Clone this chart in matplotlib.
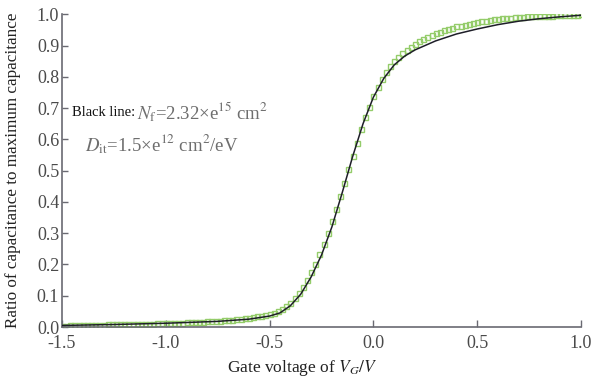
import numpy as np
import matplotlib
matplotlib.use("Agg")
import matplotlib.pyplot as plt

plt.rcParams['font.family'] = ['Liberation Serif', 'DejaVu Serif']
plt.rcParams['mathtext.fontset'] = 'stix'

# Black line (model)
line_v = [-1.5, -1.25, -1.0, -0.75, -0.6, -0.5, -0.45, -0.4, -0.35, -0.3, -0.25, -0.2,
          -0.15, -0.1, -0.05, 0.0, 0.05, 0.1, 0.15, 0.2, 0.3, 0.4, 0.5, 0.6, 0.7, 0.8, 0.9, 1.0]
line_c = [0.005, 0.008, 0.012, 0.018, 0.025, 0.035, 0.045, 0.068, 0.105, 0.16, 0.23, 0.32,
          0.43, 0.545, 0.65, 0.735, 0.795, 0.838, 0.866, 0.886, 0.915, 0.937, 0.953, 0.967,
          0.978, 0.986, 0.992, 0.997]

# Green squares (measured), sampled every 0.02 V from -1.5 to 1.0
meas_c = [
    .004, .004, .005, .005, .005, .006, .006, .006, .007, .007,
    .007, .008, .008, .008, .009, .009, .009, .010, .010, .010,
    .011, .011, .011, .012, .012, .012, .013, .013, .014, .014,
    .015, .015, .016, .016, .017, .018, .018, .019, .020, .021,
    .022, .023, .025, .026, .028, .030, .032, .034, .036, .039,
    .042, .046, .051, .058, .067, .078, .092, .108, .128, .150,
    .175, .202, .232, .265, .300, .338, .378, .420, .462, .505,
    .548, .590, .632, .670, .705, .738, .767, .792, .815, .834,
    .850, .864, .876, .887, .897, .906, .914, .921, .928, .934,
    .939, .944, .949, .953, .957, .961, .964, .967, .970, .973,
    .976, .978, .980, .982, .984, .986, .987, .988, .989, .990,
    .991, .992, .993, .993, .994, .995, .995, .996, .996, .997,
    .997, .998, .998, .999, .999, 1.0]
meas_v = np.linspace(-1.5, 1.0, len(meas_c))

xticks = [-1.5, -1.0, -0.5, 0.0, 0.5, 1.0]
yticks = [0.0, 0.1, 0.2, 0.3, 0.4, 0.5, 0.6, 0.7, 0.8, 0.9, 1.0]

W, H = 592, 380
fig = plt.figure(figsize=(W / 100, H / 100), dpi=100)
L, R, T, B = 62, 581, 14.3, 327
ax = fig.add_axes([L / W, 1 - B / H, (R - L) / W, (B - T) / H])

ax.plot(meas_v, meas_c, linestyle='none', marker='s', markersize=3.6,
        markerfacecolor='none', markeredgecolor='#94cc6a', markeredgewidth=1.0, zorder=2)
ax.plot(line_v, line_c, color='#1e1e28', lw=1.1, zorder=3)

ax.set_xlim(-1.5, 1.0)
ax.set_ylim(0.0, 1.0)
ax.set_xticks(xticks)
ax.set_yticks(yticks)
ax.set_xticklabels([f"{t:.1f}" for t in xticks])
ax.set_yticklabels([f"{t:.1f}" for t in yticks])

for s in ['top', 'right']:
    ax.spines[s].set_visible(False)
for s in ['left', 'bottom']:
    ax.spines[s].set_color('#6a6a72')
    ax.spines[s].set_linewidth(1.2)

ax.tick_params(axis='both', direction='in', colors='#6a6a72', labelcolor='#4a4a4a',
               labelsize=13, width=1.0)
ax.tick_params(axis='x', length=5, pad=6)
ax.tick_params(axis='y', length=4, pad=2)

ax.set_xlabel(r"Gate voltage of $V_G/V$", fontsize=12.5, color='#222222')
ax.xaxis.set_label_coords((302 - L) / (R - L), (B - 358) / (B - T))
ax.set_ylabel("Ratio of capacitance to maximum capacitance", fontsize=12.3, color='#222222')
ax.yaxis.set_label_coords((21 - L) / (R - L), 0.5)

gray = '#6e6e6e'
fig.text(72 / W, 1 - 113 / H, "Black line:", fontsize=10.5, color='#111111',
         ha='left', va='center')
fig.text(137 / W, 1 - 112 / H, r"$N_{\mathrm{f}}$=2.32×e$^{15}$ cm$^{2}$",
         fontsize=13.5, color=gray, ha='left', va='center')
fig.text(85 / W, 1 - 144 / H, r"$D_{\mathrm{it}}$=1.5×e$^{12}$ cm$^{2}$/eV",
         fontsize=13.5, color=gray, ha='left', va='center')

fig.savefig("out.png", dpi=100)
